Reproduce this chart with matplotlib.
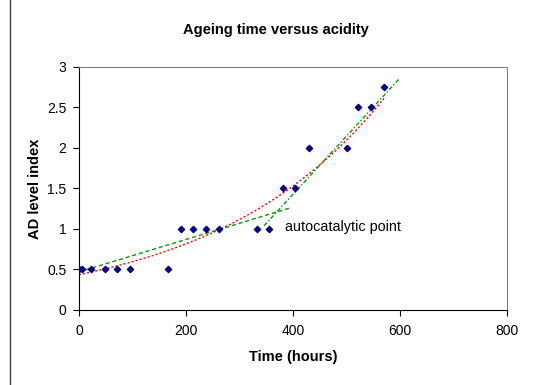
#!/usr/bin/env python3

"""
Ageing time versus acidity: AD level index against time, with trend lines.
"""

import numpy as np
import matplotlib
matplotlib.use("Agg")
import matplotlib.pyplot as plt
from matplotlib.lines import Line2D


# Measured points
hours = [0, 5, 23, 49, 71, 96, 166, 190, 214, 238, 262, 332, 356,
         382, 404, 430, 500, 522, 546, 570]
ad_level = [0.5, 0.5, 0.5, 0.5, 0.5, 0.5, 0.5, 1, 1, 1, 1, 1, 1,
            1.5, 1.5, 2, 2, 2.5, 2.5, 2.75]

# Linear trend lines (start/end)
slow_x = [0, 395]
slow_y = [0.47, 1.26]
fast_x = [346, 598]
fast_y = [1.04, 2.85]

x_ticks = [0, 200, 400, 600, 800]
y_ticks = [0, 0.5, 1, 1.5, 2, 2.5, 3]


def create_plot():

    plt.rcParams["font.family"] = ["Liberation Sans", "DejaVu Sans"]

    fig = plt.figure(figsize=(5.47, 3.85), dpi=100)
    ax = fig.add_axes([0.1444, 0.195, 0.7826, 0.631])

    # exponential trend over all points (fit on log values)
    b, log_a = np.polyfit(hours, np.log(ad_level), 1)
    xs = np.linspace(min(hours), max(hours), 200)
    ax.plot(xs, np.exp(log_a) * np.exp(b * xs), color="#ff0000",
            linestyle=(0, (1.5, 1.5)), linewidth=1.0, zorder=2)

    ax.plot(slow_x, slow_y, color="#00a000", linestyle=(0, (3, 2)),
            linewidth=1.0, zorder=2)
    ax.plot(fast_x, fast_y, color="#00a000", linestyle=(0, (3, 1.5, 1, 1.5)),
            linewidth=1.0, zorder=2)

    ax.scatter(hours, ad_level, marker="D", s=10, color="#000080", zorder=3)

    ax.text(385, 1.03, "autocatalytic point", fontsize=10.4, va="center", ha="left")

    ax.set_xlim(0, 800)
    ax.set_ylim(0, 3)
    ax.set_xticks(x_ticks)
    ax.set_yticks(y_ticks)
    ax.set_yticklabels(["0", "0.5", "1", "1.5", "2", "2.5", "3"])
    ax.tick_params(direction="out", length=4, labelsize=10, width=0.8)
    ax.tick_params(axis="x", pad=6)
    ax.tick_params(axis="y", pad=5)

    for side in ["top", "right"]:
        ax.spines[side].set_color("#808080")
        ax.spines[side].set_linewidth(0.8)
    for side in ["left", "bottom"]:
        ax.spines[side].set_color("black")
        ax.spines[side].set_linewidth(0.8)

    ax.set_xlabel("Time (hours)", fontsize=10.5, fontweight="bold", labelpad=9)
    ax.set_ylabel("AD level index", fontsize=10.5, fontweight="bold", labelpad=4)
    fig.text(0.505, 0.922, "Ageing time versus acidity", fontsize=10.5,
             fontweight="bold", ha="center", va="center")

    # border line at the left edge
    fig.add_artist(Line2D([0.018, 0.018], [0.0, 1.0], color="#404040",
                          linewidth=1.0, transform=fig.transFigure))

    fig.savefig("out.png", dpi=100)


def main():
    create_plot()


if __name__ == "__main__":
    main()
